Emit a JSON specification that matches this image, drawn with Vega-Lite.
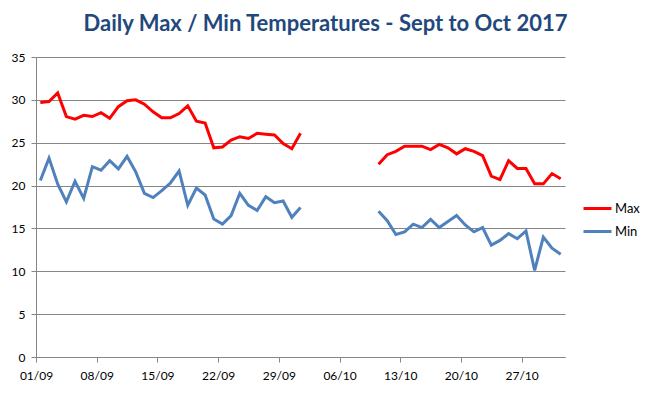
{
  "$schema": "https://vega.github.io/schema/vega-lite/v6.json",
  "width": 529,
  "height": 300,
  "autosize": {"type": "none"},
  "padding": {"left": 36, "top": 57, "right": 86, "bottom": 36},
  "background": "white",
  "title": {
    "text": "Daily Max / Min Temperatures - Sept to Oct 2017",
    "font": "Lato",
    "fontSize": 22,
    "fontWeight": "bold",
    "color": "#1F497D",
    "anchor": "middle",
    "dx": 25,
    "offset": 15
  },
  "data": {
    "values": [
      {"date": "2017/09/01", "series": "Max", "temp": 29.7},
      {"date": "2017/09/02", "series": "Max", "temp": 29.8},
      {"date": "2017/09/03", "series": "Max", "temp": 30.8},
      {"date": "2017/09/04", "series": "Max", "temp": 28.05},
      {"date": "2017/09/05", "series": "Max", "temp": 27.75},
      {"date": "2017/09/06", "series": "Max", "temp": 28.2},
      {"date": "2017/09/07", "series": "Max", "temp": 28.05},
      {"date": "2017/09/08", "series": "Max", "temp": 28.5},
      {"date": "2017/09/09", "series": "Max", "temp": 27.85},
      {"date": "2017/09/10", "series": "Max", "temp": 29.2},
      {"date": "2017/09/11", "series": "Max", "temp": 29.9},
      {"date": "2017/09/12", "series": "Max", "temp": 30.0},
      {"date": "2017/09/13", "series": "Max", "temp": 29.5},
      {"date": "2017/09/14", "series": "Max", "temp": 28.6},
      {"date": "2017/09/15", "series": "Max", "temp": 27.9},
      {"date": "2017/09/16", "series": "Max", "temp": 27.9},
      {"date": "2017/09/17", "series": "Max", "temp": 28.4},
      {"date": "2017/09/18", "series": "Max", "temp": 29.3},
      {"date": "2017/09/19", "series": "Max", "temp": 27.5},
      {"date": "2017/09/20", "series": "Max", "temp": 27.3},
      {"date": "2017/09/21", "series": "Max", "temp": 24.4},
      {"date": "2017/09/22", "series": "Max", "temp": 24.5},
      {"date": "2017/09/23", "series": "Max", "temp": 25.3},
      {"date": "2017/09/24", "series": "Max", "temp": 25.7},
      {"date": "2017/09/25", "series": "Max", "temp": 25.5},
      {"date": "2017/09/26", "series": "Max", "temp": 26.1},
      {"date": "2017/09/27", "series": "Max", "temp": 26.0},
      {"date": "2017/09/28", "series": "Max", "temp": 25.9},
      {"date": "2017/09/29", "series": "Max", "temp": 24.9},
      {"date": "2017/09/30", "series": "Max", "temp": 24.3},
      {"date": "2017/10/01", "series": "Max", "temp": 26.1},
      {"date": "2017/10/02", "series": "Max", "temp": null},
      {"date": "2017/10/03", "series": "Max", "temp": null},
      {"date": "2017/10/04", "series": "Max", "temp": null},
      {"date": "2017/10/05", "series": "Max", "temp": null},
      {"date": "2017/10/06", "series": "Max", "temp": null},
      {"date": "2017/10/07", "series": "Max", "temp": null},
      {"date": "2017/10/08", "series": "Max", "temp": null},
      {"date": "2017/10/09", "series": "Max", "temp": null},
      {"date": "2017/10/10", "series": "Max", "temp": 22.5},
      {"date": "2017/10/11", "series": "Max", "temp": 23.6},
      {"date": "2017/10/12", "series": "Max", "temp": 24.0},
      {"date": "2017/10/13", "series": "Max", "temp": 24.6},
      {"date": "2017/10/14", "series": "Max", "temp": 24.6},
      {"date": "2017/10/15", "series": "Max", "temp": 24.6},
      {"date": "2017/10/16", "series": "Max", "temp": 24.2},
      {"date": "2017/10/17", "series": "Max", "temp": 24.8},
      {"date": "2017/10/18", "series": "Max", "temp": 24.4},
      {"date": "2017/10/19", "series": "Max", "temp": 23.7},
      {"date": "2017/10/20", "series": "Max", "temp": 24.3},
      {"date": "2017/10/21", "series": "Max", "temp": 24.0},
      {"date": "2017/10/22", "series": "Max", "temp": 23.5},
      {"date": "2017/10/23", "series": "Max", "temp": 21.1},
      {"date": "2017/10/24", "series": "Max", "temp": 20.7},
      {"date": "2017/10/25", "series": "Max", "temp": 22.9},
      {"date": "2017/10/26", "series": "Max", "temp": 22.0},
      {"date": "2017/10/27", "series": "Max", "temp": 22.0},
      {"date": "2017/10/28", "series": "Max", "temp": 20.2},
      {"date": "2017/10/29", "series": "Max", "temp": 20.2},
      {"date": "2017/10/30", "series": "Max", "temp": 21.4},
      {"date": "2017/10/31", "series": "Max", "temp": 20.8},
      {"date": "2017/09/01", "series": "Min", "temp": 20.6},
      {"date": "2017/09/02", "series": "Min", "temp": 23.2},
      {"date": "2017/09/03", "series": "Min", "temp": 20.2},
      {"date": "2017/09/04", "series": "Min", "temp": 18.1},
      {"date": "2017/09/05", "series": "Min", "temp": 20.5},
      {"date": "2017/09/06", "series": "Min", "temp": 18.5},
      {"date": "2017/09/07", "series": "Min", "temp": 22.2},
      {"date": "2017/09/08", "series": "Min", "temp": 21.8},
      {"date": "2017/09/09", "series": "Min", "temp": 22.9},
      {"date": "2017/09/10", "series": "Min", "temp": 21.95},
      {"date": "2017/09/11", "series": "Min", "temp": 23.4},
      {"date": "2017/09/12", "series": "Min", "temp": 21.6},
      {"date": "2017/09/13", "series": "Min", "temp": 19.1},
      {"date": "2017/09/14", "series": "Min", "temp": 18.6},
      {"date": "2017/09/15", "series": "Min", "temp": 19.4},
      {"date": "2017/09/16", "series": "Min", "temp": 20.3},
      {"date": "2017/09/17", "series": "Min", "temp": 21.7},
      {"date": "2017/09/18", "series": "Min", "temp": 17.7},
      {"date": "2017/09/19", "series": "Min", "temp": 19.7},
      {"date": "2017/09/20", "series": "Min", "temp": 18.9},
      {"date": "2017/09/21", "series": "Min", "temp": 16.1},
      {"date": "2017/09/22", "series": "Min", "temp": 15.5},
      {"date": "2017/09/23", "series": "Min", "temp": 16.5},
      {"date": "2017/09/24", "series": "Min", "temp": 19.1},
      {"date": "2017/09/25", "series": "Min", "temp": 17.7},
      {"date": "2017/09/26", "series": "Min", "temp": 17.1},
      {"date": "2017/09/27", "series": "Min", "temp": 18.7},
      {"date": "2017/09/28", "series": "Min", "temp": 18.0},
      {"date": "2017/09/29", "series": "Min", "temp": 18.2},
      {"date": "2017/09/30", "series": "Min", "temp": 16.3},
      {"date": "2017/10/01", "series": "Min", "temp": 17.45},
      {"date": "2017/10/02", "series": "Min", "temp": null},
      {"date": "2017/10/03", "series": "Min", "temp": null},
      {"date": "2017/10/04", "series": "Min", "temp": null},
      {"date": "2017/10/05", "series": "Min", "temp": null},
      {"date": "2017/10/06", "series": "Min", "temp": null},
      {"date": "2017/10/07", "series": "Min", "temp": null},
      {"date": "2017/10/08", "series": "Min", "temp": null},
      {"date": "2017/10/09", "series": "Min", "temp": null},
      {"date": "2017/10/10", "series": "Min", "temp": 17.0},
      {"date": "2017/10/11", "series": "Min", "temp": 15.9},
      {"date": "2017/10/12", "series": "Min", "temp": 14.3},
      {"date": "2017/10/13", "series": "Min", "temp": 14.6},
      {"date": "2017/10/14", "series": "Min", "temp": 15.5},
      {"date": "2017/10/15", "series": "Min", "temp": 15.1},
      {"date": "2017/10/16", "series": "Min", "temp": 16.05},
      {"date": "2017/10/17", "series": "Min", "temp": 15.1},
      {"date": "2017/10/18", "series": "Min", "temp": 15.8},
      {"date": "2017/10/19", "series": "Min", "temp": 16.5},
      {"date": "2017/10/20", "series": "Min", "temp": 15.4},
      {"date": "2017/10/21", "series": "Min", "temp": 14.6},
      {"date": "2017/10/22", "series": "Min", "temp": 15.1},
      {"date": "2017/10/23", "series": "Min", "temp": 13.05},
      {"date": "2017/10/24", "series": "Min", "temp": 13.6},
      {"date": "2017/10/25", "series": "Min", "temp": 14.4},
      {"date": "2017/10/26", "series": "Min", "temp": 13.8},
      {"date": "2017/10/27", "series": "Min", "temp": 14.7},
      {"date": "2017/10/28", "series": "Min", "temp": 10.1},
      {"date": "2017/10/29", "series": "Min", "temp": 14.0},
      {"date": "2017/10/30", "series": "Min", "temp": 12.7},
      {"date": "2017/10/31", "series": "Min", "temp": 12.0}
    ]
  },
  "mark": {"type": "line", "strokeWidth": 3, "invalid": "break-paths-filter-domains"},
  "encoding": {
    "x": {
      "field": "date",
      "type": "temporal",
      "timeUnit": "yearmonthdate",
      "bandPosition": 0.5,
      "scale": {"domain": [{"year": 2017, "month": 9, "date": 1}, {"year": 2017, "month": 11, "date": 1}]},
      "axis": {
        "title": null,
        "values": [
          {"year": 2017, "month": 9, "date": 1},
          {"year": 2017, "month": 9, "date": 8},
          {"year": 2017, "month": 9, "date": 15},
          {"year": 2017, "month": 9, "date": 22},
          {"year": 2017, "month": 9, "date": 29},
          {"year": 2017, "month": 10, "date": 6},
          {"year": 2017, "month": 10, "date": 13},
          {"year": 2017, "month": 10, "date": 20},
          {"year": 2017, "month": 10, "date": 27}
        ],
        "format": "%d/%m",
        "grid": false,
        "domainColor": "#868686",
        "tickColor": "#868686",
        "tickSize": 5,
        "labelPadding": 8,
        "labelFont": "Lato",
        "labelFontSize": 12,
        "labelColor": "#000000",
        "labelFlush": false,
        "labelOverlap": false
      }
    },
    "y": {
      "field": "temp",
      "type": "quantitative",
      "scale": {"domain": [0, 35], "nice": false, "zero": true},
      "axis": {
        "title": null,
        "values": [0, 5, 10, 15, 20, 25, 30, 35],
        "grid": true,
        "gridColor": "#868686",
        "gridWidth": 1,
        "domainColor": "#868686",
        "tickColor": "#868686",
        "tickSize": 5,
        "labelPadding": 6,
        "labelFont": "Lato",
        "labelFontSize": 12,
        "labelColor": "#000000"
      }
    },
    "color": {
      "field": "series",
      "type": "nominal",
      "scale": {"domain": ["Max", "Min"], "range": ["#FF0000", "#4F81BD"]},
      "legend": {
        "title": null,
        "orient": "none",
        "legendX": 546,
        "legendY": 136,
        "symbolType": "stroke",
        "symbolSize": 784,
        "symbolStrokeWidth": 3,
        "labelFont": "Lato",
        "labelFontSize": 13,
        "labelColor": "#000000",
        "labelOffset": 2,
        "rowPadding": -5
      }
    }
  },
  "config": {"view": {"stroke": null}}
}
